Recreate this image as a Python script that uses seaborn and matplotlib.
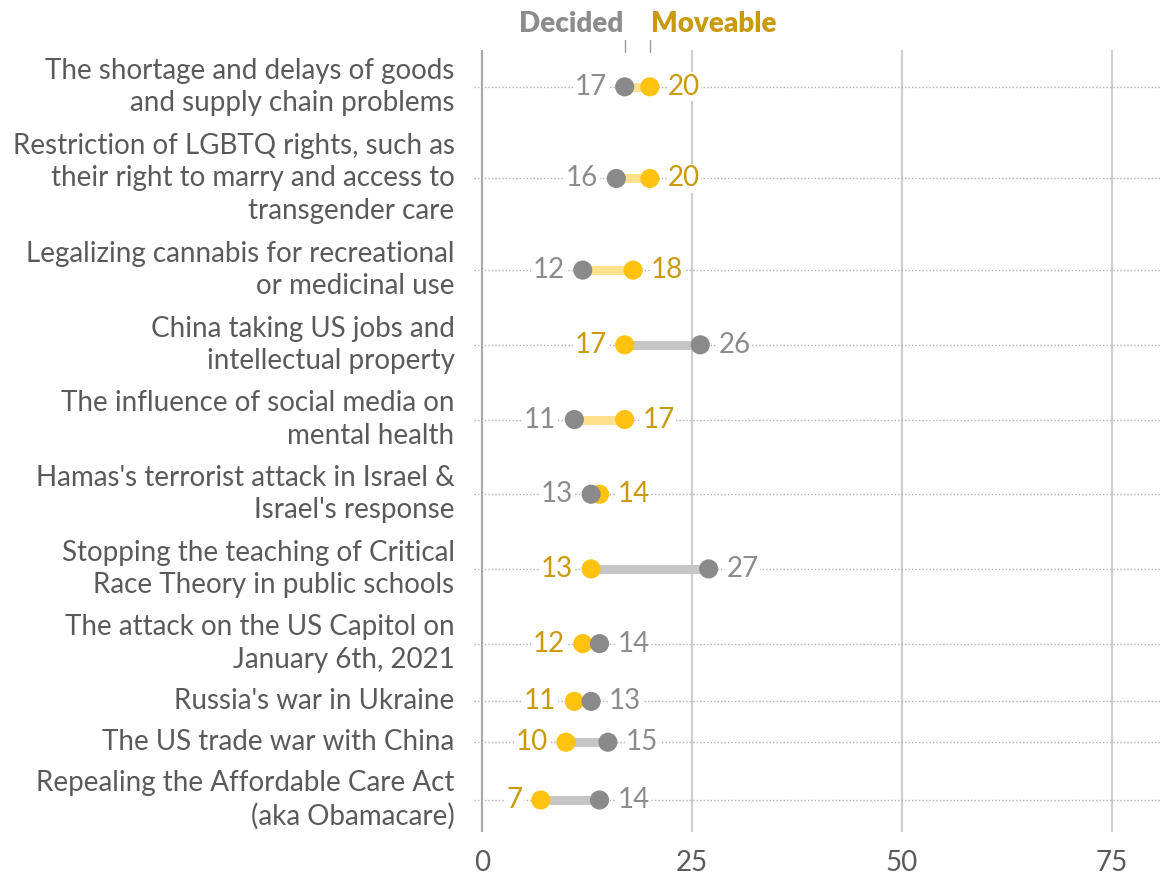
import numpy as np
import pandas as pd
import matplotlib
matplotlib.use("Agg")
import matplotlib.pyplot as plt
import seaborn as sns

# data
issues = [
    "The shortage and delays of goods\nand supply chain problems",
    "Restriction of LGBTQ rights, such as\ntheir right to marry and access to\ntransgender care",
    "Legalizing cannabis for recreational\nor medicinal use",
    "China taking US jobs and\nintellectual property",
    "The influence of social media on\nmental health",
    "Hamas's terrorist attack in Israel &\nIsrael's response",
    "Stopping the teaching of Critical\nRace Theory in public schools",
    "The attack on the US Capitol on\nJanuary 6th, 2021",
    "Russia's war in Ukraine",
    "The US trade war with China",
    "Repealing the Affordable Care Act\n(aka Obamacare)",
]
decided = [17, 16, 12, 26, 11, 13, 27, 14, 13, 15, 14]
moveable = [20, 20, 18, 17, 17, 14, 13, 12, 11, 10, 7]
x_ticks = [0, 25, 50, 75]

GRAY = "#8a8a8a"
GRAY_TXT = "#8c8c8c"
GRAY_BAR = "#c6c6c6"
YEL = "#ffc20e"
YEL_TXT = "#c99a0e"
YEL_BAR = "#ffe08c"
LABEL = "#5a5a5a"

sns.set_theme(style="white")
plt.rcParams['font.family'] = ['Lato', 'DejaVu Sans']

# row heights depend on how many lines the label has
n_lines = [s.count("\n") + 1 for s in issues]
heights = [7 + 34 * n for n in n_lines]
edges = np.concatenate([[0], np.cumsum(heights)])
ypos = (edges[:-1] + edges[1:]) / 2 - 0.5
ypos = ypos - 0.004 * ypos ** 1.0  # small squeeze toward the bottom rows
span = 782  # axes height in px

df = pd.DataFrame({"issue": issues, "y": ypos, "Decided": decided, "Moveable": moveable})
long = df.melt(id_vars=["issue", "y"], value_vars=["Moveable", "Decided"],
               var_name="group", value_name="pct")

fig = plt.figure(figsize=(11.7, 8.74), dpi=100)
ax = fig.add_axes([474 / 1170, 1 - 832 / 874, 688 / 1170, span / 874])
ax.set_xlim(-0.95, 81)
ax.set_ylim(span, 0)

# grid
for t in x_ticks:
    ax.axvline(t, color="#a9a9a9" if t == 0 else "#cfcfcf", lw=1.6, zorder=0)
for y in ypos:
    ax.axhline(y, color="#b0b0b0", lw=1.0, ls=(0, (1, 1.5)), zorder=0.5)

# connecting bars
for _, r in df.iterrows():
    col = YEL_BAR if r.Moveable > r.Decided else GRAY_BAR
    ax.plot([r.Decided, r.Moveable], [r.y, r.y], color=col, lw=6.5,
            solid_capstyle="butt", zorder=1)

sns.scatterplot(data=long, x="pct", y="y", hue="group",
                palette={"Moveable": YEL, "Decided": GRAY},
                s=190, linewidth=0, legend=False, ax=ax, zorder=3)

# value labels
for _, r in df.iterrows():
    d_left = r.Decided < r.Moveable
    for val, col, left in [(r.Decided, GRAY_TXT, d_left), (r.Moveable, YEL_TXT, not d_left)]:
        ax.annotate(f"{val}", (val, r.y), xytext=(-13 if left else 13, 0),
                    textcoords="offset points", ha="right" if left else "left",
                    va="center", fontsize=20, color=col, zorder=4,
                    bbox=dict(boxstyle="square,pad=0.05", fc="white", ec="none"))

# row labels
ax.set_yticks(ypos)
ax.set_yticklabels(issues, fontsize=20, color=LABEL, linespacing=1.3, ha="right", va="center")
ax.tick_params(axis="y", length=0, pad=14)

ax.set_xticks(x_ticks)
ax.set_xticklabels([str(t) for t in x_ticks], fontsize=20, color=LABEL)
ax.tick_params(axis="x", length=0, pad=13)
ax.set_xlabel("")
ax.set_ylabel("")
sns.despine(ax=ax, left=True, bottom=True)

# header legend
ax.text(decided[0] - 0.2, -26, "Decided", ha="right", va="center", fontsize=20,
        fontweight="heavy", color=GRAY_TXT, clip_on=False)
ax.text(moveable[0] + 0.1, -26, "Moveable", ha="left", va="center", fontsize=20,
        fontweight="heavy", color=YEL_TXT, clip_on=False)
for v in [decided[0], moveable[0]]:
    ax.plot([v, v], [-10, 2], color="#9a9a9a", lw=1, clip_on=False)

fig.savefig("out.png", dpi=100)
